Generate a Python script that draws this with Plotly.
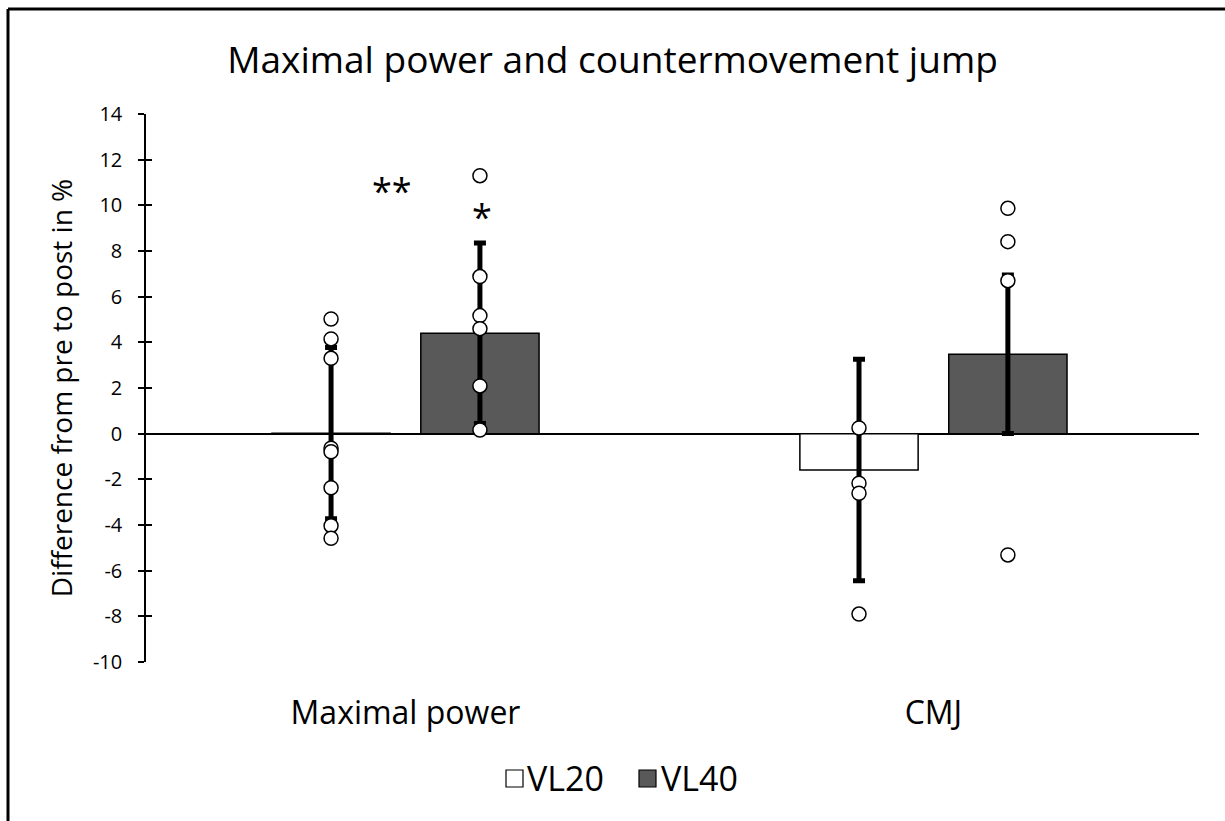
import plotly.graph_objects as go

# ---- data ----
categories = ["Maximal power", "CMJ"]
groups = ["VL20", "VL40"]
means = {"VL20": [0.02, -1.59], "VL40": [4.40, 3.48]}
sds = {"VL20": [3.75, 4.85], "VL40": [3.95, 3.47]}
points_vl20 = [
    [5.02, 4.15, 3.30, -0.64, -0.79, -2.37, -4.03, -4.58],
    [0.25, -2.17, -2.61, -7.90],
]
points_vl40 = [
    [11.30, 6.88, 5.17, 4.60, 2.09, 0.16],
    [9.87, 8.41, 6.70, -5.31],
]
points = {"VL20": points_vl20, "VL40": points_vl40}
sig_labels = ["**", "*"]
sig_y = [10.63, 9.53]
y_ticks = list(range(-10, 15, 2))
y_tick_text = [str(v) for v in y_ticks]

# ---- style ----
FONT = "Open Sans"
fills = {"VL20": "white", "VL40": "#595959"}
W, H = 1225, 821
ML, MR, MT, MB = 146, 26, 114, 159
offsets = {"VL20": -0.141, "VL40": 0.141}
BAR_W = 0.224
pw = W - ML - MR
ph = H - MT - MB


def xp(px):
    return (px - ML) / pw


def yp(py):
    return (H - MB - py) / ph


fig = go.Figure()
for g in groups:
    xs = [i + offsets[g] for i in range(len(categories))]
    fig.add_trace(go.Bar(
        x=xs, y=means[g], width=BAR_W, name=g, showlegend=False,
        marker=dict(color=fills[g], line=dict(color="black", width=1.5)),
        error_y=dict(type="data", array=sds[g], visible=True,
                     color="black", thickness=5, width=6),
    ))
for g in groups:
    px, py = [], []
    for i, vals in enumerate(points[g]):
        px += [i + offsets[g]] * len(vals)
        py += vals
    fig.add_trace(go.Scatter(
        x=px, y=py, mode="markers", showlegend=False,
        marker=dict(symbol="circle", size=14, color="white",
                    line=dict(color="black", width=1.5)),
    ))

# significance markers
sig_x = [0 - 0.025, 0 + 0.145]
for sx, sy, lab in zip(sig_x, sig_y, sig_labels):
    fig.add_annotation(x=sx, y=sy, text=lab, showarrow=False,
                       font=dict(family=FONT, size=36, color="black"))

# outer border (top & left edges)
fig.add_shape(type="line", xref="paper", yref="paper", x0=xp(8), x1=xp(W + 5),
              y0=yp(9), y1=yp(9), line=dict(color="black", width=3))
fig.add_shape(type="line", xref="paper", yref="paper", x0=xp(8), x1=xp(8),
              y0=yp(9), y1=yp(H + 5), line=dict(color="black", width=3))

# manual legend
legend_items = [("VL20", 506, 525), ("VL40", 639, 659)]
for g, sx, tx in legend_items:
    fig.add_shape(type="rect", xref="paper", yref="paper",
                  x0=xp(sx), x1=xp(sx + 17), y0=yp(770), y1=yp(787),
                  fillcolor=fills[g], line=dict(color="black", width=1.2))
    fig.add_annotation(xref="paper", yref="paper", x=xp(tx), y=yp(777.5),
                       xanchor="left", yanchor="middle", text=g, showarrow=False,
                       font=dict(family=FONT, size=34, color="black"))

fig.update_layout(
    width=W, height=H,
    margin=dict(l=ML, r=MR, t=MT, b=MB),
    paper_bgcolor="white", plot_bgcolor="white",
    barmode="overlay",
    title=dict(text="Maximal power and countermovement jump", x=0.5, xref="container",
               xanchor="center", y=1 - 60 / H, yanchor="middle",
               font=dict(family=FONT, size=37, color="black")),
    font=dict(family=FONT, color="black"),
    xaxis=dict(range=[-0.4915, 1.503], tickvals=list(range(len(categories))),
               ticktext=categories, showgrid=False, showline=False, ticks="",
               zeroline=False, tickfont=dict(size=32), ticklabelstandoff=29),
    yaxis=dict(range=[-10, 14], tickvals=y_ticks, ticktext=y_tick_text, showgrid=False,
               showline=True, linecolor="black", linewidth=1.5,
               ticks="outside", ticklen=6, tickwidth=1.5, tickcolor="black",
               zeroline=True, zerolinecolor="black", zerolinewidth=1.5,
               tickfont=dict(size=20), ticklabelstandoff=12,
               title=dict(text="Difference from pre to post in %",
                          font=dict(size=28), standoff=12)),
    yaxis2=dict(range=[-10, 14], tickvals=y_ticks, overlaying="y", side="left",
                showticklabels=False, ticks="inside", ticklen=6, tickwidth=1.5,
                tickcolor="black", showgrid=False, zeroline=False, showline=False),
    showlegend=False,
)
fig.add_trace(go.Scatter(x=[None], y=[None], yaxis="y2", showlegend=False))

fig.write_html("out.html", config={"displayModeBar": False},
               post_script="document.body.style.margin='0px';document.body.style.overflow='hidden';")
